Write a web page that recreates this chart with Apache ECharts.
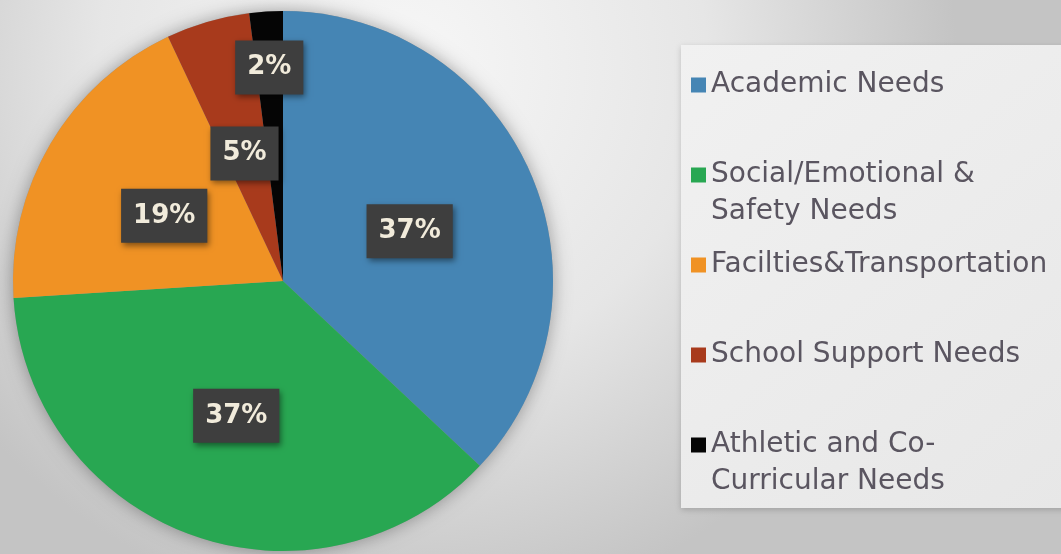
<!DOCTYPE html>
<html>
<head>
<meta charset="utf-8">
<script src="https://cdn.jsdelivr.net/npm/echarts@6/dist/echarts.min.js"></script>
<style>
  html, body { margin: 0; padding: 0; }
  #chart { width: 1061px; height: 554px; }
</style>
</head>
<body>
<div id="chart"></div>
<script>
// ---- data ----
const categories = ['Academic Needs', 'Social/Emotional & Safety Needs', 'Facilties&Transportation', 'School Support Needs', 'Athletic and Co-Curricular Needs'];
const values = [37, 37, 19, 5, 2];
const legendLabels = ['Academic Needs', 'Social/Emotional &\nSafety Needs', 'Facilties&Transportation', 'School Support Needs', 'Athletic and Co-\nCurricular Needs'];
const colors = ['#4585b4', '#28a752', '#f09224', '#a83a1c', '#050505'];
const outerLabelIndex = 4; // small slice whose label sits further out

const chart = echarts.init(document.getElementById('chart'));

const labelStyle = {
  formatter: '{d}%',
  color: '#f1ebdb',
  fontFamily: 'DejaVu Sans',
  fontWeight: 'bold',
  fontSize: 26,
  lineHeight: 30,
  backgroundColor: '#3e3e3e',
  padding: [12, 12, 12, 12],
  offset: [0, 5],
  shadowColor: 'rgba(0,0,0,0.45)',
  shadowBlur: 6,
  shadowOffsetX: 2,
  shadowOffsetY: 3
};

const mainData = categories.map((c, i) => ({
  name: c,
  value: values[i],
  itemStyle: { color: colors[i] },
  label: { show: i !== outerLabelIndex }
}));

const ghostData = categories.map((c, i) => ({
  name: c,
  value: values[i],
  label: { show: i === outerLabelIndex }
}));

const center = [283, 281];
const radius = 270;

chart.setOption({
  backgroundColor: {
    type: 'radial', x: 0.38, y: 0.12, r: 1.0,
    colorStops: [
      { offset: 0, color: '#f7f7f7' },
      { offset: 0.55, color: '#e6e6e6' },
      { offset: 1, color: '#c4c4c4' }
    ]
  },
  animation: false,
  graphic: [{
    type: 'rect', z: -1, silent: true,
    shape: { x: 681, y: 45, width: 390, height: 463 },
    style: {
      fill: { type: 'linear', x: 0, y: 0, x2: 1, y2: 1,
        colorStops: [{ offset: 0, color: '#f1f1f1' }, { offset: 1, color: '#e7e7e7' }] },
      shadowColor: 'rgba(0,0,0,0.18)', shadowBlur: 6, shadowOffsetY: 2
    }
  }],
  legend: {
    orient: 'vertical',
    left: 691,
    top: 29.5,
    padding: 0,
    itemGap: -21,
    itemWidth: 15,
    itemHeight: 15,
    icon: 'rect',
    selectedMode: false,
    data: categories,
    formatter: function (name) {
      const lbl = legendLabels[categories.indexOf(name)];
      return lbl.indexOf('\n') >= 0 ? '\n' + lbl : '\n' + lbl + '\n';
    },
    textStyle: {
      color: '#5a5560',
      fontFamily: 'DejaVu Sans',
      fontSize: 28,
      lineHeight: 37
    }
  },
  series: [
    {
      type: 'pie', z: 1, silent: true,
      center: center, radius: radius,
      label: { show: false }, labelLine: { show: false },
      itemStyle: { color: '#9a9a9a', borderWidth: 0, shadowColor: 'rgba(0,0,0,0.35)', shadowBlur: 18 },
      data: [{ name: 'backdrop', value: 1 }]
    },
    {
      type: 'pie', z: 2,
      center: center, radius: radius,
      startAngle: 90, clockwise: true,
      percentPrecision: 0,
      avoidLabelOverlap: false,
      itemStyle: { borderWidth: 0 },
      label: Object.assign({ position: 'inside' }, labelStyle),
      labelLine: { show: false },
      data: mainData
    },
    {
      type: 'pie', z: 3, silent: true,
      center: center, radius: radius * 1.6,
      startAngle: 90, clockwise: true,
      percentPrecision: 0,
      avoidLabelOverlap: false,
      itemStyle: { color: 'rgba(0,0,0,0)', borderWidth: 0 },
      label: Object.assign({ position: 'inside' }, labelStyle),
      labelLine: { show: false },
      data: ghostData
    }
  ]
});
</script>
</body>
</html>
